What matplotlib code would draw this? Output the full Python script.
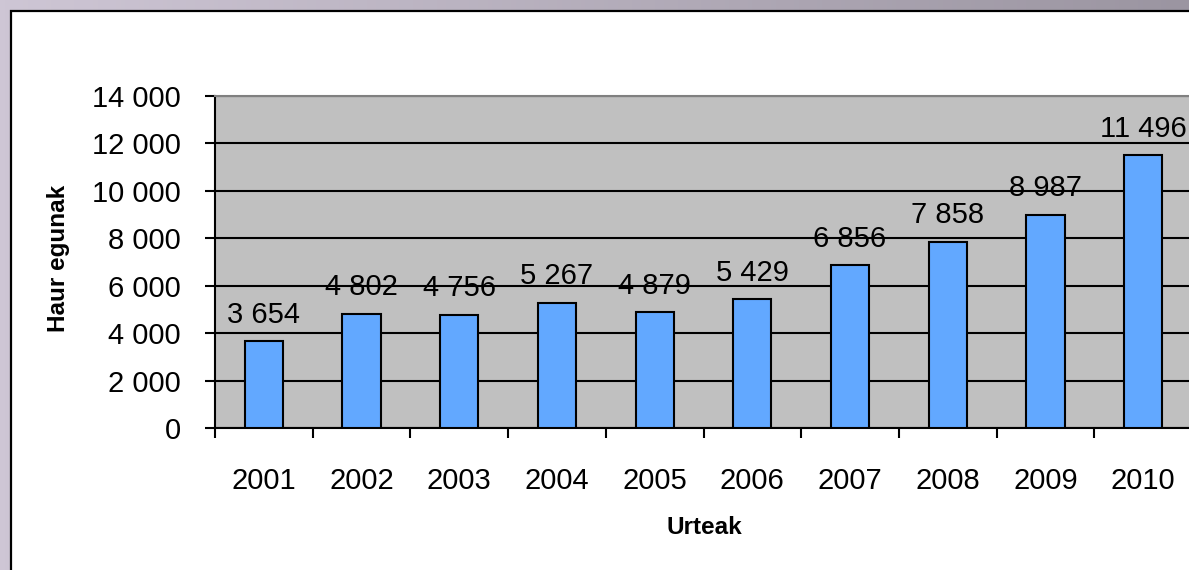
import numpy as np
import matplotlib
matplotlib.use("Agg")
import matplotlib.pyplot as plt
from matplotlib.patches import Rectangle
from matplotlib.colors import LinearSegmentedColormap

years = ["2001", "2002", "2003", "2004", "2005", "2006", "2007", "2008", "2009", "2010"]
child_days = [3654, 4802, 4756, 5267, 4879, 5429, 6856, 7858, 8987, 11496]
y_ticks = [0, 2000, 4000, 6000, 8000, 10000, 12000, 14000]


def fmt(v):
    return f"{v:,}".replace(",", " ")


plt.rcParams['font.family'] = ['Liberation Sans', 'DejaVu Sans']

W, H = 1189, 570
fig = plt.figure(figsize=(W / 100, H / 100), dpi=100)

# lavender frame with a soft left-to-right gradient
bg = fig.add_axes([0, 0, 1, 1], zorder=-2)
cmap = LinearSegmentedColormap.from_list("frame", ["#cec6d5", "#9b95a1"])
bg.imshow(np.linspace(0, 1, 256)[None, :], cmap=cmap, aspect="auto", extent=[0, 1, 0, 1])
bg.set_axis_off()

# white chart area with black border (runs off the right and bottom edges)
fig.patches.append(Rectangle((11 / W, -0.05), 1.1, 1.05 - 11 / H, transform=fig.transFigure,
                             facecolor="white", edgecolor="black", linewidth=1.6, zorder=-1))

left, top, bottom = 215, 96, 428
ax = fig.add_axes([left / W, (H - bottom) / H, 977 / W, (bottom - top) / H])
ax.set_facecolor("#c0c0c0")

x = np.arange(len(years))
ax.bar(x, child_days, width=0.39, color="#62a8ff", edgecolor="black", linewidth=1.5, zorder=3)

for xi, v in zip(x, child_days):
    ax.annotate(fmt(v), (xi, v), xytext=(0, 13.5), textcoords="offset points",
                ha="center", va="baseline", fontsize=21, zorder=4)

ax.set_xlim(-0.5, len(years) - 0.5)
ax.set_ylim(0, 14000)
ax.set_yticks(y_ticks)
ax.set_yticklabels([fmt(t) for t in y_ticks])
ax.set_xticks(x)
ax.set_xticklabels(years)
ax.set_xticks(np.arange(len(years) + 1) - 0.5, minor=True)

ax.grid(axis="y", color="black", linewidth=1.5, zorder=1)
ax.set_axisbelow(True)

ax.tick_params(axis="y", length=7.5, width=1.5, pad=17, labelsize=21, direction="out")
ax.tick_params(axis="x", which="major", length=0, pad=28, labelsize=21)
ax.tick_params(axis="x", which="minor", length=7.5, width=1.5, direction="out")

for s in ["left", "bottom"]:
    ax.spines[s].set_linewidth(1.5)
    ax.spines[s].set_color("black")
ax.spines["top"].set_color("#808080")
ax.spines["top"].set_linewidth(1.5)
ax.spines["right"].set_visible(False)

fig.text(58 / W, 1 - 258 / H, "Haur egunak", rotation=90, ha="center", va="center",
         fontsize=17.5, fontweight="bold")
fig.text(704 / W, 1 - 528 / H, "Urteak", ha="center", va="center",
         fontsize=17.5, fontweight="bold")

fig.savefig("out.png", dpi=100)
